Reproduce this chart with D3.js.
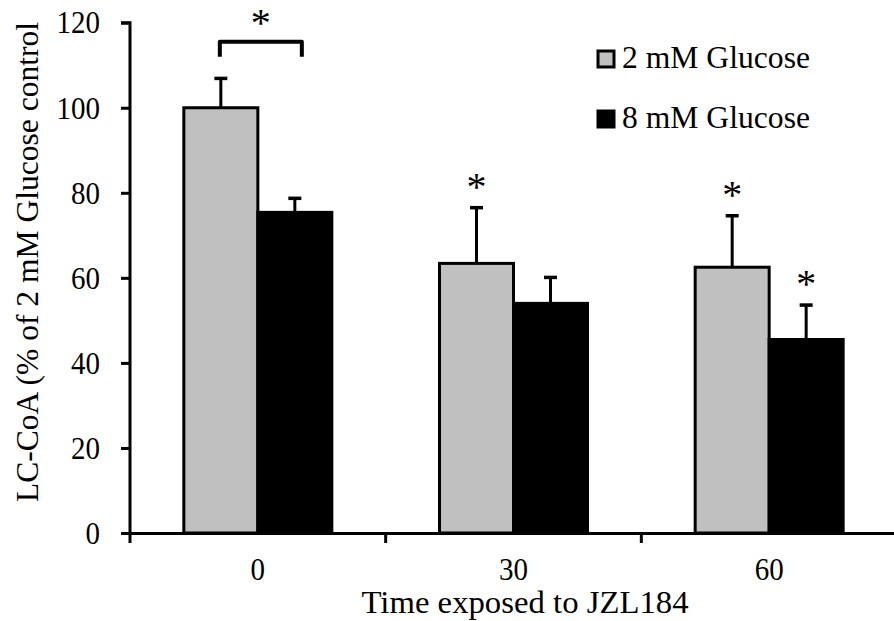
<!DOCTYPE html>
<html>
<head>
<meta charset="utf-8">
<script src="https://cdn.jsdelivr.net/npm/d3@7"></script>
<style>
  body { margin: 0; background: #fff; }
  svg { display: block; }
  text { font-family: "Liberation Serif", "Times New Roman", serif; fill: #000; }
</style>
</head>
<body>
<svg></svg>
<script>
var times = ['0', '30', '60'];
var series = ['2 mM Glucose', '8 mM Glucose'];
var colors = ['#c0c0c0', '#000000'];
var means = [[100, 75.4], [63.4, 54.0], [62.5, 45.5]];
var errors = [[6.9, 3.3], [13.1, 6.1], [12.1, 8.1]];
var stars = [[false, false], [true, false], [true, true]];
var yTicks = [0, 20, 40, 60, 80, 100, 120];

var width = 894;
var height = 621;
var fontSize = '32px';
var digitW = 14.5; // tick digits are a bit narrower than the titles

var svg = d3.select('svg')
            .attr('width', width)
            .attr('height', height);

var x0 = d3.scaleBand()
           .domain(times)
           .range([130, 897]);

var gap = (x0.bandwidth() - 148) / 2;
var x1 = d3.scaleBand()
           .domain(series)
           .range([gap, x0.bandwidth() - gap]);

var y = d3.scaleLinear()
          .domain([0, 120])
          .range([533, 22.7]);

// rows for each bar
var rows = [];
times.forEach(function(t, i) {
  series.forEach(function(s, j) {
    rows.push({time: t, series: s, value: means[i][j], err: errors[i][j], star: stars[i][j], color: colors[j]});
  });
});

function cx(d) { return x0(d.time) + x1(d.series) + x1.bandwidth() / 2; }

svg.append('g')
   .selectAll('rect')
   .data(rows)
   .enter()
   .append('rect')
     .attr('x', d => x0(d.time) + x1(d.series))
     .attr('y', d => y(d.value))
     .attr('width', x1.bandwidth())
     .attr('height', d => y(0) - y(d.value))
     .attr('fill', d => d.color)
     .attr('stroke', '#000')
     .attr('stroke-width', 3);

// error bars (upper only)
var errG = svg.append('g');
errG.selectAll('line.stem')
    .data(rows)
    .enter()
    .append('line')
      .attr('x1', cx)
      .attr('x2', cx)
      .attr('y1', d => y(d.value))
      .attr('y2', d => y(d.value + d.err))
      .attr('stroke', '#000')
      .attr('stroke-width', 3);

errG.selectAll('line.cap')
    .data(rows)
    .enter()
    .append('line')
      .attr('x1', d => cx(d) - 6.5)
      .attr('x2', d => cx(d) + 6.5)
      .attr('y1', d => y(d.value + d.err))
      .attr('y2', d => y(d.value + d.err))
      .attr('stroke', '#000')
      .attr('stroke-width', 3.5);

// stars above significant bars
svg.append('g')
   .selectAll('text')
   .data(rows.filter(d => d.star))
   .enter()
   .append('text')
     .attr('x', cx)
     .attr('y', d => y(d.value + d.err) - 8)
     .attr('text-anchor', 'middle')
     .style('font-size', '40px')
     .text('*');

// bracket between the 0 min bars
var bx1 = cx(rows[0]) - 1;
var bx2 = cx(rows[1]) + 7;
var bTop = y(115.5);
svg.append('path')
   .attr('d', 'M' + bx1 + ',' + (bTop + 15) + 'V' + bTop + 'H' + bx2 + 'V' + (bTop + 15))
   .attr('fill', 'none')
   .attr('stroke', '#000')
   .attr('stroke-width', 4)
   .attr('stroke-linejoin', 'round');
svg.append('text')
   .attr('x', (bx1 + bx2) / 2)
   .attr('y', bTop - 6)
   .attr('text-anchor', 'middle')
   .style('font-size', '40px')
   .text('*');

// axes
var yAxis = svg.append('g')
   .attr('transform', 'translate(130,0)')
   .call(d3.axisLeft(y).tickValues(yTicks).tickSize(9).tickPadding(21));

var xAxis = svg.append('g')
   .attr('transform', 'translate(0,533)')
   .call(d3.axisBottom(x0).tickValues([]).tickSizeOuter(0));

xAxis.selectAll('line.sep')
     .data([130].concat(times.map(t => x0(t) + x0.bandwidth())))
     .enter()
     .append('line')
       .attr('x1', d => d)
       .attr('x2', d => d)
       .attr('y1', 0)
       .attr('y2', 10)
       .attr('stroke', '#000')
       .attr('stroke-width', 3);

xAxis.selectAll('text.lbl')
     .data(times)
     .enter()
     .append('text')
       .attr('class', 'lbl')
       .attr('x', d => x0(d) + x0.bandwidth() / 2)
       .attr('y', 47)
       .attr('text-anchor', 'middle')
       .style('font-size', fontSize)
       .attr('textLength', d => d.length * digitW)
       .attr('lengthAdjust', 'spacingAndGlyphs')
       .text(d => d);

[yAxis, xAxis].forEach(function(g) {
  g.select('.domain').attr('stroke', '#000').attr('stroke-width', 3);
  g.selectAll('.tick line').attr('stroke', '#000').attr('stroke-width', 3);
  g.selectAll('.tick text')
   .style('font-size', fontSize)
   .style('font-family', '"Liberation Serif", serif')
   .attr('fill', '#000')
   .attr('textLength', function() { return this.textContent.length * digitW; })
   .attr('lengthAdjust', 'spacingAndGlyphs');
});
yAxis.select('.domain').attr('d', 'M-9,' + y(120) + 'H0V' + y(0));

// axis titles
svg.append('text')
   .attr('transform', 'rotate(-90)')
   .attr('x', -262)
   .attr('y', 38)
   .attr('text-anchor', 'middle')
   .style('font-size', fontSize)
   .attr('textLength', 480)
   .attr('lengthAdjust', 'spacingAndGlyphs')
   .text('LC-CoA (% of 2 mM Glucose control');

svg.append('text')
   .attr('x', 525)
   .attr('y', 613)
   .attr('text-anchor', 'middle')
   .style('font-size', fontSize)
   .attr('textLength', 327)
   .attr('lengthAdjust', 'spacingAndGlyphs')
   .text('Time exposed to JZL184');

// legend
var legend = svg.append('g')
   .selectAll('g')
   .data(series)
   .enter()
   .append('g')
     .attr('transform', (d, i) => 'translate(597,' + (50 + i * 60) + ')');

legend.append('rect')
      .attr('x', 1)
      .attr('y', 1)
      .attr('width', 16)
      .attr('height', 16)
      .attr('fill', (d, i) => colors[i])
      .attr('stroke', '#000')
      .attr('stroke-width', 3);

legend.append('text')
      .attr('x', 25)
      .attr('y', 18)
      .style('font-size', fontSize)
      .attr('textLength', 188)
      .attr('lengthAdjust', 'spacingAndGlyphs')
      .text(d => d);
</script>
</body>
</html>
